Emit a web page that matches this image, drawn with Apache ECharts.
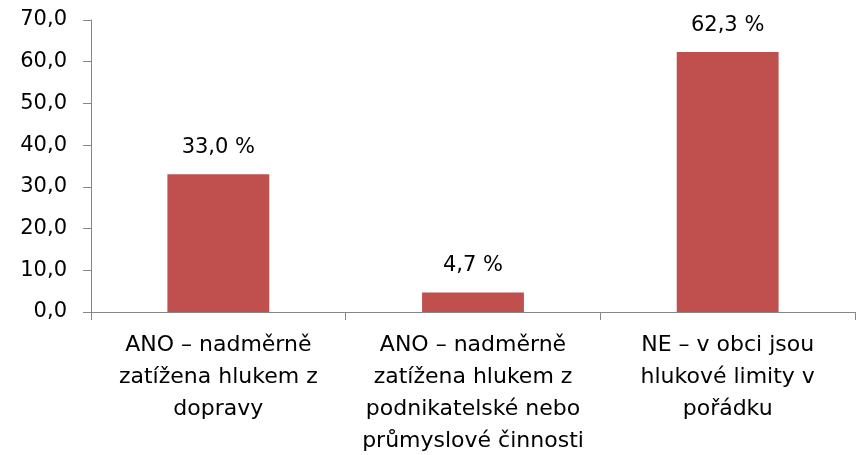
<!DOCTYPE html>
<html>
<head>
<meta charset="utf-8">
<script src="https://cdn.jsdelivr.net/npm/echarts@6/dist/echarts.min.js"></script>
<style>
  html, body { margin: 0; padding: 0; background: #fff; }
  #chart { width: 858px; height: 455px; }
</style>
</head>
<body>
<div id="chart"></div>
<script>
// Noise-load answers: share of respondents (%)
const categories = [
  'ANO – nadměrně\nzatížena hlukem z\ndopravy',
  'ANO – nadměrně\nzatížena hlukem z\npodnikatelské nebo\nprůmyslové činnosti',
  'NE – v obci jsou\nhlukové limity v\npořádku'
];
const values = [33.0, 4.7, 62.3];
const yTicks = [0, 10, 20, 30, 40, 50, 60, 70];

const fmt = v => v.toFixed(1).replace('.', ',');
const font = 'DejaVu Sans';
const axisGray = '#868686';

const chart = echarts.init(document.getElementById('chart'));
chart.setOption({
  animation: false,
  backgroundColor: '#ffffff',
  textStyle: { fontFamily: font },
  grid: {
    left: 91, right: 3, top: 20, bottom: 143,
    containLabel: false, outerBoundsMode: 'none'
  },
  xAxis: {
    type: 'category',
    data: categories,
    axisLine: { lineStyle: { color: axisGray, width: 1 } },
    axisTick: { show: true, length: 8, lineStyle: { color: axisGray } },
    axisLabel: {
      color: '#000', fontSize: 22, fontFamily: font,
      lineHeight: 32, margin: 17, interval: 0
    }
  },
  yAxis: {
    type: 'value',
    min: yTicks[0],
    max: yTicks[yTicks.length - 1],
    interval: yTicks[1] - yTicks[0],
    splitLine: { show: false },
    axisLine: { show: true, lineStyle: { color: axisGray, width: 1 } },
    axisTick: { show: true, length: 8, lineStyle: { color: axisGray } },
    axisLabel: {
      color: '#000', fontSize: 21, fontFamily: font, margin: 24,
      formatter: v => fmt(v)
    }
  },
  series: [{
    type: 'bar',
    data: values,
    barWidth: '40%',
    itemStyle: { color: '#C0504D' },
    label: {
      show: true, position: 'top', distance: 16,
      color: '#000', fontSize: 21, fontFamily: font,
      formatter: p => fmt(p.value) + ' %'
    }
  }]
});
</script>
</body>
</html>
